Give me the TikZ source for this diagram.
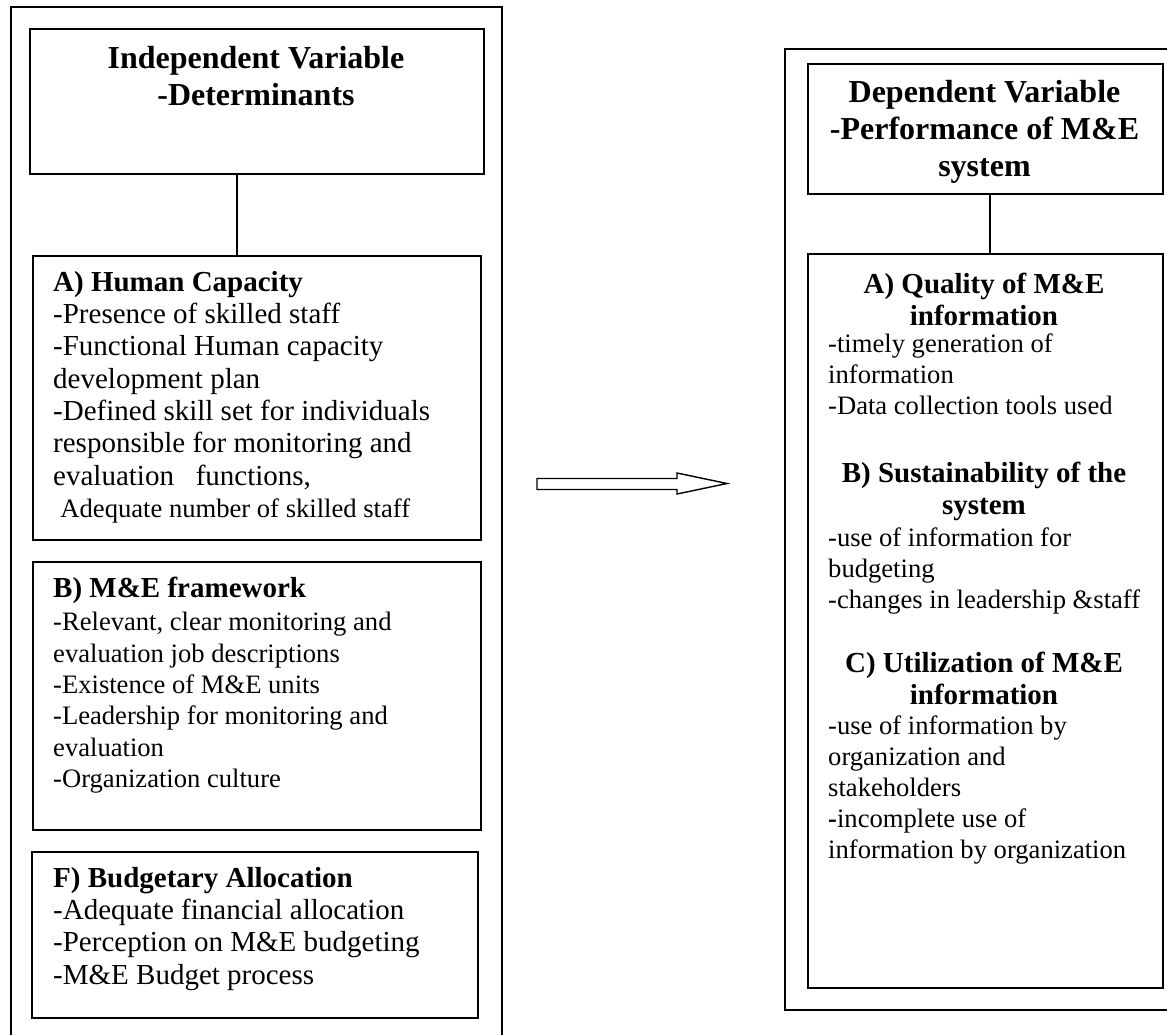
\documentclass[tikz,border=0pt]{standalone}
\usepackage{fontspec}
\setmainfont{Liberation Serif}
\begin{document}
\begin{tikzpicture}[x=1pt,y=-1pt,
  frame/.style={draw, line width=1.7pt},
  box/.style={draw, line width=1.6pt, rectangle, inner sep=0pt, anchor=north west},
  conn/.style={draw, line width=1.2pt},
  title/.style={anchor=north, inner sep=0pt, align=center, font=\fontsize{32}{37}\selectfont\bfseries},
  lbody/.style={anchor=north west, inner sep=0pt, align=left, font=\fontsize{29}{32.3}\selectfont},
  lhead/.style={anchor=north west, inner sep=0pt, align=left, font=\fontsize{29}{32.3}\selectfont\bfseries},
  lsmall/.style={anchor=north west, inner sep=0pt, align=left, font=\fontsize{26.6}{31.4}\selectfont},
  rhead/.style={anchor=north, inner sep=0pt, align=center, font=\fontsize{29}{31.5}\selectfont\bfseries},
  rbody/.style={anchor=north west, inner sep=0pt, align=left, font=\fontsize{26.6}{31}\selectfont}
]
\useasboundingbox (0,0) rectangle (1167,1034);

% left frame (open at bottom)
\draw[frame] (11,1040) -- (11,7) -- (502,7) -- (502,1040);
% right frame (open at right)
\draw[frame] (1172,49) -- (785,49) -- (785,1010) -- (1172,1010);

% left column boxes
\node[box, minimum width=454, minimum height=145] (indep) at (29,28) {};
\node[title] (indeptext) at (256,46) {Independent Variable\\-Determinants};

\node[box, minimum width=448, minimum height=284] (boxA) at (32,255) {};
\node[lbody] (textA) at (53,271) {\textbf{A) Human Capacity}\\
-Presence of skilled staff\\
-Functional Human capacity\\
development plan\\
-Defined skill set for individuals\\
responsible for monitoring and\\
evaluation\hspace{0.75em}functions,\\
\hspace*{0.25em}{\fontsize{26.6}{32.3}\selectfont Adequate number of skilled staff}};

\node[box, minimum width=448, minimum height=268] (boxB) at (32,561) {};
\node[lhead] (headB) at (53,577) {B) M\&E framework};
\node[lsmall] (textB) at (53,612) {-Relevant, clear monitoring and\\
evaluation job descriptions\\
-Existence of M\&E units\\
-Leadership for monitoring and\\
evaluation\\
-Organization culture};

\node[box, minimum width=446, minimum height=166] (boxF) at (31,851) {};
\node[lbody] (textF) at (53,867) {\textbf{F) Budgetary Allocation}\\
-Adequate financial allocation\\
-Perception on M\&E budgeting\\
-M\&E Budget process};

\coordinate (cl) at (237,200);
\draw[conn] (cl |- indep.south) -- (cl |- boxA.north);

% right column
\node[box, minimum width=355, minimum height=130] (dep) at (807,63) {};
\node[title] (deptext) at (984.5,80) {Dependent Variable\\-Performance of M\&E\\system};

\node[box, minimum width=355, minimum height=734] (perf) at (807,253) {};
\coordinate (cr) at (990,220);
\draw[conn] (cr |- dep.south) -- (cr |- perf.north);

\node[rhead] (qahead) at (984,273) {A) Quality of M\&E\\information};
\node[rbody] (qabody) at (828,334) {-timely generation of\\information\\-Data collection tools used};

\node[rhead] (sbhead) at (984,462) {B) Sustainability of the\\system};
\node[rbody] (sbbody) at (828,528) {-use of information for\\budgeting\\-changes in leadership \&staff};

\node[rhead] (uchead) at (984,652) {C) Utilization of M\&E\\information};
\node[rbody] (ucbody) at (828,716) {-use of information by\\organization and\\stakeholders\\\textbf{-}incomplete use of\\information by organization};

% hollow arrow
\draw[line width=1.4pt, fill=white] (537,478.5) -- (677,478.5) -- (677,473) -- (727,483.5) -- (677,494) -- (677,489.5) -- (537,489.5) -- cycle;
\end{tikzpicture}
\end{document}
